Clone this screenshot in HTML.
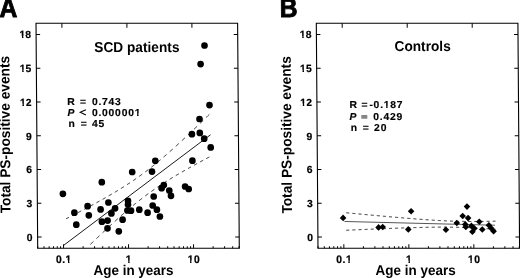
<!DOCTYPE html>
<html><head><meta charset="utf-8"><style>
html,body{margin:0;padding:0;background:#fff;}
body{width:520px;height:278px;overflow:hidden;}
svg{display:block;filter:grayscale(1);}
text{font-family:"Liberation Sans",sans-serif;font-weight:bold;fill:#000;}
.ax{fill:none;stroke:#000;stroke-width:1.1;}
.tk{fill:none;stroke:#000;stroke-width:1;}
.rl{fill:none;stroke:#000;stroke-width:0.9;}
.db{fill:none;stroke:#222;stroke-width:0.95;}
.tl{font-size:10.4px;stroke:#000;stroke-width:0.2px;}
.st{font-size:10.4px;letter-spacing:0.75px;stroke:#000;stroke-width:0.15px;}
.ti{font-size:13.7px;}
.xl{font-size:13.5px;}
.yl{font-size:13.72px;}
.pl{font-size:24px;stroke:#000;stroke-width:0.8px;}
</style></head><body>
<svg width="520" height="278" viewBox="0 0 520 278">
<g>
<rect x="0" y="0" width="520" height="278" fill="#fff"/>
<g transform="translate(0 248.25) skewX(0.4297) translate(0 -248.25)">
<rect x="37.70" y="23.25" width="201.60" height="225.0" class="ax"/>
<path d="M37.70 237.00h4M239.30 237.00h-4M37.70 203.25h4M239.30 203.25h-4M37.70 169.50h4M239.30 169.50h-4M37.70 135.75h4M239.30 135.75h-4M37.70 102.00h4M239.30 102.00h-4M37.70 68.25h4M239.30 68.25h-4M37.70 34.50h4M239.30 34.50h-4M37.70 248.25v-2M44.00 248.25v-2M49.15 248.25v-2M53.50 248.25v-2M57.27 248.25v-2M60.59 248.25v-2M63.57 248.25v-4.1M63.57 23.25v4.6M83.13 248.25v-2M94.58 248.25v-2M102.70 248.25v-2M109.00 248.25v-2M114.15 248.25v-2M118.50 248.25v-2M122.27 248.25v-2M125.59 248.25v-2M128.57 248.25v-4.1M128.57 23.25v4.6M148.13 248.25v-2M159.58 248.25v-2M167.70 248.25v-2M174.00 248.25v-2M179.15 248.25v-2M183.50 248.25v-2M187.27 248.25v-2M190.59 248.25v-2M193.57 248.25v-4.1M193.57 23.25v4.6M213.13 248.25v-2M224.58 248.25v-2M232.70 248.25v-2M239.00 248.25v-2" class="tk"/>
<text x="32.70" y="240.80" class="tl" text-anchor="end">0</text>
<text x="32.70" y="207.05" class="tl" text-anchor="end">3</text>
<text x="32.70" y="173.30" class="tl" text-anchor="end">6</text>
<text x="32.70" y="139.55" class="tl" text-anchor="end">9</text>
<text x="32.70" y="105.80" class="tl" text-anchor="end">12</text>
<text x="32.70" y="72.05" class="tl" text-anchor="end">15</text>
<text x="32.70" y="38.30" class="tl" text-anchor="end">18</text>
<text transform="translate(63.82,262.7) scale(1,1.045)" class="tl" text-anchor="middle" letter-spacing="0.5">0.1</text>
<text transform="translate(128.82,262.7) scale(1,1.045)" class="tl" text-anchor="middle" letter-spacing="0.5">1</text>
<text transform="translate(193.82,262.7) scale(1,1.045)" class="tl" text-anchor="middle" letter-spacing="0.5">10</text>
<polyline points="63.52,245.46 211.35,134.81" class="rl"/>
<path d="M66.22 218.84L66.97 218.45L67.73 218.07L68.48 217.68L69.23 217.30M72.34 215.69L73.10 215.30L73.85 214.92L74.60 214.53L75.36 214.14M78.47 212.52L79.22 212.12L79.97 211.73L80.73 211.34L81.48 210.94M84.59 209.30L85.35 208.90L86.10 208.50L86.85 208.10L87.60 207.70M90.72 206.04L91.47 205.64L92.22 205.23L92.98 204.82L93.73 204.42M96.84 202.72L97.59 202.31L98.35 201.89L99.10 201.48L99.85 201.06M102.97 199.33L103.72 198.91L104.47 198.49L105.23 198.06L105.98 197.63M109.09 195.86L109.85 195.42L110.60 194.98L111.35 194.55L112.11 194.11M115.22 192.27L115.97 191.82L116.73 191.37L117.48 190.92L118.23 190.46M121.35 188.56L122.10 188.09L122.85 187.62L123.61 187.15L124.36 186.68M127.48 184.69L128.23 184.20L128.98 183.71L129.74 183.22L130.49 182.72M133.61 180.64L134.36 180.13L135.11 179.61L135.87 179.09L136.62 178.57M139.74 176.38L140.49 175.84L141.25 175.29L142.00 174.75L142.76 174.20M145.87 171.89L146.63 171.32L147.38 170.75L148.14 170.18L148.89 169.60M152.01 167.17L152.76 166.57L153.52 165.98L154.27 165.37L155.03 164.77M158.15 162.23L158.90 161.61L159.65 160.98L160.41 160.35L161.16 159.72M164.28 157.08L165.04 156.43L165.79 155.78L166.55 155.13L167.30 154.48M170.42 151.75L171.18 151.08L171.93 150.41L172.69 149.74L173.44 149.07M176.56 146.26L177.32 145.58L178.08 144.89L178.83 144.21L179.59 143.52M182.71 140.65L183.46 139.95L184.22 139.26L184.97 138.55L185.73 137.85M188.85 134.94L189.61 134.23L190.36 133.52L191.12 132.81L191.87 132.09M194.99 129.13L195.75 128.42L196.50 127.70L197.26 126.98L198.01 126.26M201.14 123.26L201.89 122.54L202.65 121.81L203.40 121.09L204.16 120.36M207.28 117.34L208.04 116.61L208.79 115.87L209.55 115.14L210.30 114.41M90.43 244.38L91.18 243.66L91.94 242.94L92.70 242.21L93.45 241.49M96.57 238.52L97.33 237.80L98.08 237.09L98.84 236.38L99.59 235.66M102.72 232.73L103.47 232.02L104.23 231.32L104.98 230.61L105.74 229.91M108.86 227.02L109.61 226.33L110.37 225.63L111.12 224.94L111.88 224.25M115.00 221.42L115.76 220.74L116.51 220.06L117.27 219.39L118.02 218.71M121.14 215.95L121.90 215.29L122.65 214.63L123.41 213.97L124.16 213.32M127.28 210.64L128.04 210.00L128.79 209.36L129.55 208.72L130.30 208.09M133.42 205.51L134.18 204.89L134.93 204.28L135.68 203.67L136.44 203.06M139.56 200.59L140.31 200.00L141.07 199.41L141.82 198.83L142.58 198.25M145.69 195.89L146.45 195.33L147.20 194.77L147.96 194.22L148.71 193.67M151.83 191.43L152.58 190.89L153.33 190.36L154.09 189.84L154.84 189.31M157.96 187.18L158.71 186.68L159.47 186.17L160.22 185.67L160.97 185.18M164.09 183.15L164.84 182.67L165.60 182.19L166.35 181.71L167.10 181.24M170.22 179.30L170.97 178.84L171.72 178.38L172.48 177.92L173.23 177.46M176.34 175.60L177.10 175.15L177.85 174.71L178.60 174.27L179.36 173.83M182.47 172.03L183.22 171.60L183.98 171.17L184.73 170.74L185.48 170.31M188.60 168.56L189.35 168.14L190.10 167.72L190.86 167.31L191.61 166.89M194.72 165.18L195.48 164.77L196.23 164.36L196.98 163.95L197.74 163.54M200.85 161.87L201.60 161.46L202.35 161.06L203.11 160.66L203.86 160.26M206.97 158.61L207.73 158.21L208.48 157.82L209.23 157.42L209.98 157.03" class="db"/>
<circle cx="206.02" cy="45.50" r="3.35"/>
<circle cx="201.98" cy="64.10" r="3.35"/>
<circle cx="210.57" cy="105.10" r="3.35"/>
<circle cx="200.47" cy="119.00" r="3.35"/>
<circle cx="192.76" cy="134.20" r="3.35"/>
<circle cx="200.67" cy="132.90" r="3.35"/>
<circle cx="205.02" cy="138.70" r="3.35"/>
<circle cx="211.46" cy="147.40" r="3.35"/>
<circle cx="193.06" cy="160.70" r="3.35"/>
<circle cx="185.56" cy="186.50" r="3.35"/>
<circle cx="189.14" cy="189.00" r="3.35"/>
<circle cx="164.27" cy="185.00" r="3.35"/>
<circle cx="162.05" cy="188.20" r="3.35"/>
<circle cx="169.73" cy="190.50" r="3.35"/>
<circle cx="171.39" cy="195.80" r="3.35"/>
<circle cx="154.09" cy="196.50" r="3.35"/>
<circle cx="155.96" cy="160.80" r="3.35"/>
<circle cx="132.77" cy="172.00" r="3.35"/>
<circle cx="152.57" cy="171.60" r="3.35"/>
<circle cx="153.02" cy="205.50" r="3.35"/>
<circle cx="157.19" cy="209.70" r="3.35"/>
<circle cx="139.59" cy="209.70" r="3.35"/>
<circle cx="147.87" cy="212.70" r="3.35"/>
<circle cx="160.14" cy="216.50" r="3.35"/>
<circle cx="128.36" cy="200.80" r="3.35"/>
<circle cx="128.33" cy="204.60" r="3.35"/>
<circle cx="127.68" cy="210.50" r="3.35"/>
<circle cx="131.28" cy="210.70" r="3.35"/>
<circle cx="122.81" cy="219.70" r="3.35"/>
<circle cx="118.93" cy="231.30" r="3.35"/>
<circle cx="107.65" cy="228.30" r="3.35"/>
<circle cx="107.81" cy="220.60" r="3.35"/>
<circle cx="102.10" cy="221.70" r="3.35"/>
<circle cx="108.74" cy="202.50" r="3.35"/>
<circle cx="100.89" cy="209.40" r="3.35"/>
<circle cx="115.40" cy="208.30" r="3.35"/>
<circle cx="111.66" cy="213.40" r="3.35"/>
<circle cx="102.30" cy="182.20" r="3.35"/>
<circle cx="89.05" cy="215.30" r="3.35"/>
<circle cx="87.92" cy="206.20" r="3.35"/>
<circle cx="76.48" cy="224.70" r="3.35"/>
<circle cx="74.67" cy="212.70" r="3.35"/>
<circle cx="63.31" cy="193.80" r="3.35"/>
<rect x="318.00" y="23.25" width="201.60" height="225.0" class="ax"/>
<path d="M318.00 237.00h4M519.60 237.00h-4M318.00 203.25h4M519.60 203.25h-4M318.00 169.50h4M519.60 169.50h-4M318.00 135.75h4M519.60 135.75h-4M318.00 102.00h4M519.60 102.00h-4M318.00 68.25h4M519.60 68.25h-4M318.00 34.50h4M519.60 34.50h-4M318.00 248.25v-2M324.30 248.25v-2M329.45 248.25v-2M333.80 248.25v-2M337.57 248.25v-2M340.89 248.25v-2M343.87 248.25v-4.1M343.87 23.25v4.6M363.43 248.25v-2M374.88 248.25v-2M383.00 248.25v-2M389.30 248.25v-2M394.45 248.25v-2M398.80 248.25v-2M402.57 248.25v-2M405.89 248.25v-2M408.87 248.25v-4.1M408.87 23.25v4.6M428.43 248.25v-2M439.88 248.25v-2M448.00 248.25v-2M454.30 248.25v-2M459.45 248.25v-2M463.80 248.25v-2M467.57 248.25v-2M470.89 248.25v-2M473.87 248.25v-4.1M473.87 23.25v4.6M493.43 248.25v-2M504.88 248.25v-2M513.00 248.25v-2M519.30 248.25v-2" class="tk"/>
<text x="313.00" y="240.80" class="tl" text-anchor="end">0</text>
<text x="313.00" y="207.05" class="tl" text-anchor="end">3</text>
<text x="313.00" y="173.30" class="tl" text-anchor="end">6</text>
<text x="313.00" y="139.55" class="tl" text-anchor="end">9</text>
<text x="313.00" y="105.80" class="tl" text-anchor="end">12</text>
<text x="313.00" y="72.05" class="tl" text-anchor="end">15</text>
<text x="313.00" y="38.30" class="tl" text-anchor="end">18</text>
<text transform="translate(344.12,262.7) scale(1,1.045)" class="tl" text-anchor="middle" letter-spacing="0.5">0.1</text>
<text transform="translate(409.12,262.7) scale(1,1.045)" class="tl" text-anchor="middle" letter-spacing="0.5">1</text>
<text transform="translate(474.12,262.7) scale(1,1.045)" class="tl" text-anchor="middle" letter-spacing="0.5">10</text>
<polyline points="344.70,221.47 495.17,225.24" class="rl" style="stroke:#444"/>
<path d="M346.57 212.78L347.32 212.85L348.06 212.92L348.81 212.99L349.56 213.06M352.66 213.35L353.41 213.42L354.16 213.49L354.91 213.56L355.66 213.63M358.76 213.92L359.51 213.99L360.26 214.06L361.01 214.13L361.76 214.20M364.85 214.49L365.60 214.56L366.35 214.63L367.10 214.69L367.85 214.76M370.95 215.05L371.70 215.12L372.45 215.19L373.20 215.25L373.95 215.32M377.04 215.60L377.79 215.67L378.54 215.74L379.29 215.81L380.04 215.88M383.14 216.15L383.89 216.22L384.64 216.29L385.39 216.35L386.14 216.42M389.24 216.70L389.99 216.76L390.74 216.83L391.49 216.89L392.23 216.96M395.33 217.23L396.08 217.29L396.83 217.36L397.58 217.42L398.33 217.49M401.43 217.75L402.18 217.82L402.93 217.88L403.68 217.94L404.43 218.00M407.52 218.26L408.27 218.32L409.02 218.38L409.77 218.45L410.52 218.51M413.62 218.75L414.37 218.81L415.12 218.87L415.87 218.93L416.62 218.99M419.72 219.23L420.47 219.28L421.22 219.34L421.97 219.39L422.72 219.45M425.81 219.67L426.56 219.73L427.31 219.78L428.06 219.83L428.81 219.88M431.91 220.09L432.66 220.13L433.41 220.18L434.16 220.23L434.91 220.28M438.01 220.46L438.76 220.50L439.51 220.55L440.26 220.59L441.01 220.63M444.11 220.79L444.86 220.82L445.61 220.86L446.36 220.89L447.10 220.93M450.20 221.06L450.95 221.08L451.70 221.11L452.45 221.14L453.20 221.17M456.30 221.26L457.05 221.28L457.80 221.30L458.55 221.32L459.30 221.34M462.40 221.40L463.15 221.41L463.90 221.43L464.65 221.44L465.40 221.45M468.50 221.48L469.25 221.48L470.00 221.48L470.75 221.49L471.50 221.49M474.60 221.49L475.35 221.49L476.10 221.48L476.85 221.48L477.60 221.48M480.70 221.45L481.45 221.44L482.20 221.43L482.95 221.42L483.70 221.41M486.80 221.36L487.55 221.35L488.30 221.34L489.05 221.32L489.80 221.31M492.90 221.24L493.60 221.23L494.30 221.21L495.00 221.19L495.70 221.18M346.43 230.26L347.19 230.23L347.94 230.19L348.69 230.16L349.44 230.13M352.54 229.99L353.29 229.96L354.04 229.93L354.79 229.89L355.54 229.86M358.64 229.73L359.39 229.70L360.14 229.66L360.89 229.63L361.64 229.60M364.74 229.47L365.49 229.44L366.24 229.40L366.99 229.37L367.74 229.34M370.84 229.21L371.59 229.18L372.34 229.15L373.09 229.12L373.84 229.09M376.94 228.96L377.69 228.93L378.45 228.90L379.20 228.87L379.95 228.84M383.05 228.72L383.80 228.69L384.55 228.66L385.30 228.63L386.05 228.60M389.15 228.48L389.90 228.45L390.65 228.42L391.40 228.39L392.15 228.37M395.25 228.25L396.00 228.22L396.75 228.20L397.50 228.17L398.25 228.14M401.35 228.03L402.10 228.01L402.85 227.98L403.60 227.96L404.35 227.93M407.45 227.83L408.20 227.80L408.95 227.78L409.70 227.76L410.45 227.73M413.55 227.64L414.30 227.62L415.05 227.60L415.81 227.58L416.56 227.56M419.66 227.47L420.41 227.45L421.16 227.44L421.91 227.42L422.66 227.40M425.76 227.33L426.51 227.32L427.26 227.30L428.01 227.29L428.76 227.27M431.86 227.22L432.61 227.21L433.36 227.20L434.11 227.19L434.86 227.18M437.96 227.15L438.71 227.15L439.46 227.14L440.21 227.14L440.96 227.14M444.06 227.13L444.81 227.14L445.56 227.14L446.31 227.14L447.06 227.14M450.16 227.17L450.91 227.18L451.66 227.19L452.41 227.20L453.16 227.21M456.26 227.27L457.01 227.28L457.76 227.30L458.51 227.32L459.26 227.34M462.36 227.43L463.11 227.46L463.86 227.48L464.61 227.51L465.36 227.54M468.45 227.66L469.20 227.70L469.95 227.73L470.70 227.76L471.45 227.80M474.55 227.96L475.30 228.00L476.05 228.04L476.80 228.08L477.55 228.12M480.65 228.30L481.40 228.35L482.15 228.39L482.90 228.44L483.65 228.49M486.75 228.69L487.50 228.74L488.25 228.79L489.00 228.84L489.75 228.90M492.84 229.12L493.54 229.17L494.24 229.22L494.94 229.27L495.64 229.32" class="db"/>
<path d="M343.33 214.60L346.63 217.90L343.33 221.20L340.03 217.90Z"/>
<path d="M378.76 224.10L382.06 227.40L378.76 230.70L375.46 227.40Z"/>
<path d="M382.86 223.70L386.16 227.00L382.86 230.30L379.56 227.00Z"/>
<path d="M408.44 226.10L411.74 229.40L408.44 232.70L405.14 229.40Z"/>
<path d="M411.38 208.00L414.68 211.30L411.38 214.60L408.08 211.30Z"/>
<path d="M446.04 226.50L449.34 229.80L446.04 233.10L442.74 229.80Z"/>
<path d="M467.31 203.30L470.61 206.60L467.31 209.90L464.01 206.60Z"/>
<path d="M462.94 212.70L466.24 216.00L462.94 219.30L459.64 216.00Z"/>
<path d="M468.33 214.80L471.63 218.10L468.33 221.40L465.03 218.10Z"/>
<path d="M456.99 219.70L460.29 223.00L456.99 226.30L453.69 223.00Z"/>
<path d="M465.48 221.10L468.78 224.40L465.48 227.70L462.18 224.40Z"/>
<path d="M465.96 223.70L469.26 227.00L465.96 230.30L462.66 227.00Z"/>
<path d="M471.57 222.60L474.87 225.90L471.57 229.20L468.27 225.90Z"/>
<path d="M474.45 225.10L477.75 228.40L474.45 231.70L471.15 228.40Z"/>
<path d="M472.52 228.50L475.82 231.80L472.52 235.10L469.22 231.80Z"/>
<path d="M479.50 218.40L482.80 221.70L479.50 225.00L476.20 221.70Z"/>
<path d="M482.44 226.20L485.74 229.50L482.44 232.80L479.14 229.50Z"/>
<path d="M489.07 221.90L492.37 225.20L489.07 228.50L485.77 225.20Z"/>
<path d="M491.35 224.90L494.65 228.20L491.35 231.50L488.05 228.20Z"/>
<path d="M493.73 227.90L497.03 231.20L493.73 234.50L490.43 231.20Z"/>
<text transform="translate(1.33,17.10) scale(1.03,1.12)" x="0" y="0" class="pl">A</text>
<text transform="translate(281.53,17.20) scale(1.03,1.12)" x="0" y="0" class="pl">B</text>
<text transform="translate(95.78,51.50) scale(1,1.045)" class="ti" text-anchor="start" >SCD patients</text>
<text transform="translate(395.98,51.10) scale(1,1.045)" class="ti" text-anchor="start" >Controls</text>
<text transform="translate(93.20,274.80) scale(1,1.045)" class="xl" text-anchor="start" >Age in years</text>
<text transform="translate(375.40,274.80) scale(1,1.045)" class="xl" text-anchor="start" >Age in years</text>
<text transform="translate(10.76,213.30) rotate(-90) scale(1,1.045)" x="0" y="0" class="yl">Total PS-positive events</text>
<text transform="translate(292.16,213.60) rotate(-90) scale(1,1.045)" x="0" y="0" class="yl">Total PS-positive events</text>
<text transform="translate(68.38,104.75) scale(1,0.97)" class="st" text-anchor="start" >R</text>
<text transform="translate(81.08,104.75) scale(1,0.97)" class="st" text-anchor="start" >=</text>
<text transform="translate(92.98,104.75) scale(1,0.97)" class="st" text-anchor="start" >0.743</text>
<text transform="translate(68.39,115.65) scale(1,0.97)" class="st" text-anchor="start" ><tspan font-style="italic">P</tspan></text>
<text transform="translate(92.89,115.65) scale(1,0.97)" class="st" text-anchor="start" >0.000001</text>
<text transform="translate(69.41,126.65) scale(1,0.97)" class="st" text-anchor="start" >n</text>
<text transform="translate(81.61,126.65) scale(1,0.97)" class="st" text-anchor="start" >=</text>
<text transform="translate(92.81,126.65) scale(1,0.97)" class="st" text-anchor="start" >45</text>
<path d="M86.94 109.70L81.22 112.35L86.90 115.00" fill="none" stroke="#000" stroke-width="1.05"/>
<text transform="translate(350.45,108.45) scale(1,0.97)" class="st" text-anchor="start" >R</text>
<text transform="translate(362.65,108.45) scale(1,0.97)" class="st" text-anchor="start" >=</text>
<text transform="translate(370.45,108.45) scale(1,0.97)" class="st" text-anchor="start" >-0.187</text>
<text transform="translate(350.37,119.55) scale(1,0.97)" class="st" text-anchor="start" ><tspan font-style="italic">P</tspan></text>
<text transform="translate(374.27,119.55) scale(1,0.97)" class="st" text-anchor="start" >0.429</text>
<text transform="translate(351.68,130.75) scale(1,0.97)" class="st" text-anchor="start" >n</text>
<text transform="translate(363.58,130.75) scale(1,0.97)" class="st" text-anchor="start" >=</text>
<text transform="translate(374.98,130.75) scale(1,0.97)" class="st" text-anchor="start" >20</text>
<rect x="362.30" y="115.10" width="6" height="3.6" fill="#858585"/>
<g fill="#fff"><rect x="21.09" y="103.60" width="2.45" height="3.00"/><rect x="25.01" y="103.60" width="2.32" height="3.00"/></g>
<g fill="#fff"><rect x="21.09" y="69.85" width="2.45" height="3.00"/><rect x="25.01" y="69.85" width="2.32" height="3.00"/></g>
<g fill="#fff"><rect x="21.09" y="36.10" width="2.45" height="3.00"/><rect x="25.01" y="36.10" width="2.32" height="3.00"/></g>
<g fill="#fff" transform="translate(63.82,262.7) scale(1,1.045)"><rect x="1.64" y="-2.20" width="2.45" height="3.00"/><rect x="5.55" y="-2.20" width="2.32" height="3.00"/></g>
<g fill="#fff" transform="translate(128.82,262.7) scale(1,1.045)"><rect x="-3.18" y="-2.20" width="2.45" height="3.00"/><rect x="0.73" y="-2.20" width="2.32" height="3.00"/></g>
<g fill="#fff" transform="translate(193.82,262.7) scale(1,1.045)"><rect x="-6.32" y="-2.20" width="2.45" height="3.00"/><rect x="-2.40" y="-2.20" width="2.32" height="3.00"/></g>
<g fill="#fff"><rect x="301.39" y="103.60" width="2.45" height="3.00"/><rect x="305.31" y="103.60" width="2.32" height="3.00"/></g>
<g fill="#fff"><rect x="301.39" y="69.85" width="2.45" height="3.00"/><rect x="305.31" y="69.85" width="2.32" height="3.00"/></g>
<g fill="#fff"><rect x="301.39" y="36.10" width="2.45" height="3.00"/><rect x="305.31" y="36.10" width="2.32" height="3.00"/></g>
<g fill="#fff" transform="translate(344.12,262.7) scale(1,1.045)"><rect x="1.64" y="-2.20" width="2.45" height="3.00"/><rect x="5.55" y="-2.20" width="2.32" height="3.00"/></g>
<g fill="#fff" transform="translate(409.12,262.7) scale(1,1.045)"><rect x="-3.18" y="-2.20" width="2.45" height="3.00"/><rect x="0.73" y="-2.20" width="2.32" height="3.00"/></g>
<g fill="#fff" transform="translate(474.12,262.7) scale(1,1.045)"><rect x="-6.32" y="-2.20" width="2.45" height="3.00"/><rect x="-2.40" y="-2.20" width="2.32" height="3.00"/></g>
<g fill="#fff" transform="translate(92.89,115.65) scale(1,0.97)"><rect x="42.77" y="-2.20" width="2.43" height="2.98"/><rect x="46.67" y="-2.20" width="2.30" height="2.98"/></g>
<g fill="#fff" transform="translate(370.45,108.45) scale(1,0.97)"><rect x="14.35" y="-2.20" width="2.43" height="2.98"/><rect x="18.24" y="-2.20" width="2.30" height="2.98"/></g>
</g>
</g>
</svg>
</body></html>
